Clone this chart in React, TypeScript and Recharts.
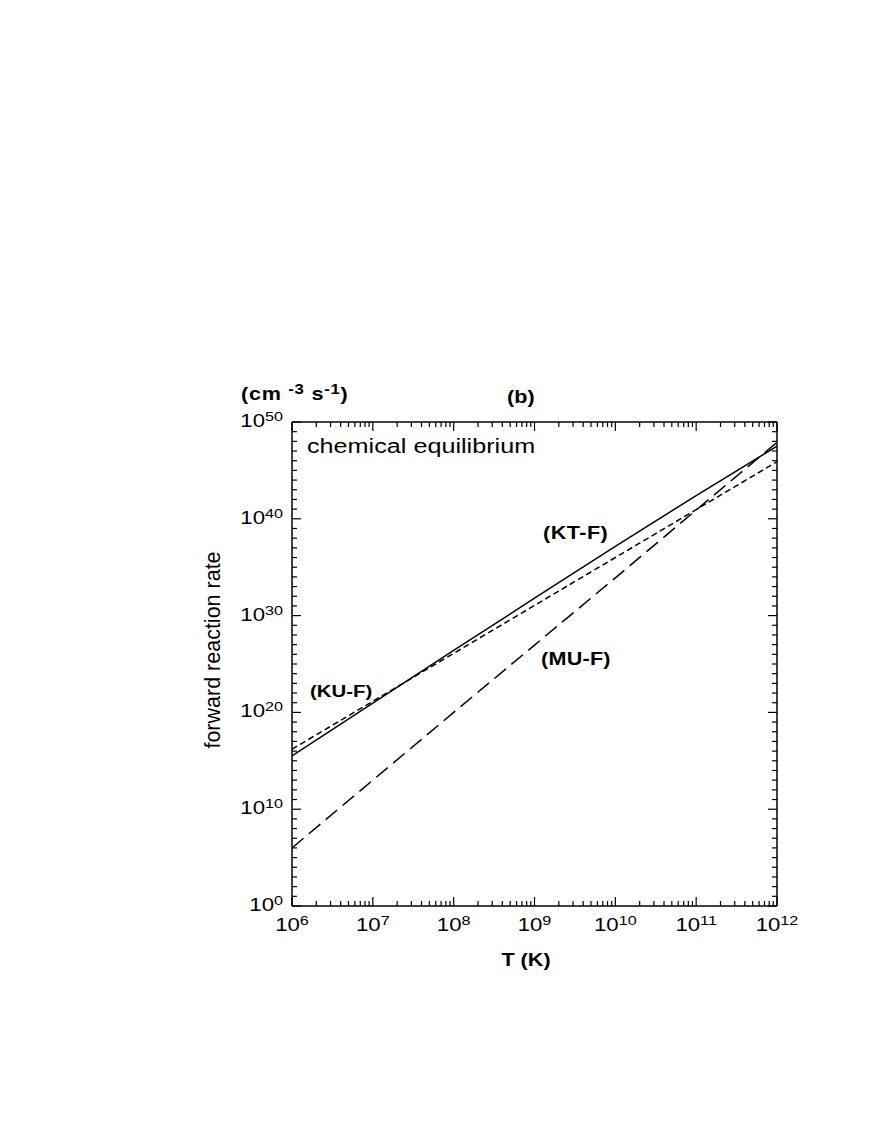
import { LineChart, Line, XAxis, YAxis } from "recharts";

// log10(T / K) at each decade
const T_EXP = [6, 7, 8, 9, 10, 11, 12];
// log10(rate / cm^-3 s^-1)
const KT_F = [15.5, 20.95, 26.4, 31.8, 37.15, 42.4, 47.5];
const KU_F = [16.2, 21.15, 26.1, 31.05, 36.0, 40.95, 45.9];
const MU_F = [6.0, 13.0, 20.0, 26.95, 33.9, 40.9, 47.9];

const X_DECADES = [6, 7, 8, 9, 10, 11, 12];
const MINOR_MULT = [2, 3, 4, 5, 6, 7, 8, 9];
const Y_TICKS = Array.from({ length: 51 }, (_, i) => i);
const Y_LABELS = [0, 10, 20, 30, 40, 50];

const xTicks = X_DECADES.flatMap((d) =>
  d < 12 ? [d, ...MINOR_MULT.map((m) => d + Math.log10(m))] : [d]
);

const data = T_EXP.map((t, i) => ({ t, kt: KT_F[i], ku: KU_F[i], mu: MU_F[i] }));

const FONT = "'Liberation Sans', Arial, Helvetica, sans-serif";
const SX = 1.2;

const isMajorX = (v: number) => Math.abs(v - Math.round(v)) < 1e-6;

function SText({ x, y, anchor = "start", size, bold = false, spacing = 0, children }: any) {
  return (
    <text
      transform={`translate(${x} ${y}) scale(${SX} 1)`}
      textAnchor={anchor}
      fontSize={size}
      fontWeight={bold ? "bold" : "normal"}
      fontFamily={FONT}
      letterSpacing={spacing}
      fill="#000"
    >
      {children}
    </text>
  );
}

function BottomTick({ x, y, payload }: any) {
  const v = payload.value;
  const major = isMajorX(v);
  return (
    <g>
      <line x1={x} y1={y} x2={x} y2={y - (major ? 9 : 5)} stroke="#000" strokeWidth={1.2} />
      {major && (
        <SText x={x} y={y + 25} anchor="middle" size={18.5}>
          10<tspan dy={-6} fontSize={13.5}>{Math.round(v)}</tspan>
        </SText>
      )}
    </g>
  );
}

function TopTick({ x, y, payload }: any) {
  const major = isMajorX(payload.value);
  return <line x1={x} y1={y} x2={x} y2={y + (major ? 9 : 5)} stroke="#000" strokeWidth={1.2} />;
}

function LeftTick({ x, y, payload }: any) {
  const v = payload.value;
  const major = Y_LABELS.includes(v);
  return (
    <g>
      <line x1={x} y1={y} x2={x + (major ? 9 : 5)} y2={y} stroke="#000" strokeWidth={1.2} />
      {major && (
        <SText x={x - 9} y={y + 5} anchor="end" size={18.5}>
          10<tspan dy={-6} fontSize={13.5}>{v}</tspan>
        </SText>
      )}
    </g>
  );
}

function RightTick({ x, y, payload }: any) {
  const major = Y_LABELS.includes(payload.value);
  return <line x1={x} y1={y} x2={x - (major ? 9 : 5)} y2={y} stroke="#000" strokeWidth={1.2} />;
}

const axisLine = { stroke: "#000", strokeWidth: 1.5 };

export default function App() {
  return (
    <div style={{ position: "relative", width: 856, height: 1000 }}>
      <LineChart
        width={856}
        height={1000}
        data={data}
        margin={{ top: 404, right: 77, bottom: 62, left: 224 }}
      >
        <XAxis
          xAxisId="bottom"
          dataKey="t"
          type="number"
          domain={[6, 12]}
          allowDataOverflow
          ticks={xTicks}
          interval={0}
          height={40}
          tickSize={0}
          tickMargin={0}
          tickLine={false}
          axisLine={axisLine}
          tick={BottomTick}
        />
        <XAxis
          xAxisId="top"
          dataKey="t"
          orientation="top"
          type="number"
          domain={[6, 12]}
          allowDataOverflow
          ticks={xTicks}
          interval={0}
          height={10}
          tickSize={0}
          tickMargin={0}
          tickLine={false}
          axisLine={axisLine}
          tick={TopTick}
        />
        <YAxis
          yAxisId="left"
          type="number"
          domain={[0, 50]}
          allowDataOverflow
          ticks={Y_TICKS}
          interval={0}
          width={60}
          tickSize={0}
          tickMargin={0}
          tickLine={false}
          axisLine={axisLine}
          tick={LeftTick}
        />
        <YAxis
          yAxisId="right"
          orientation="right"
          type="number"
          domain={[0, 50]}
          allowDataOverflow
          ticks={Y_TICKS}
          interval={0}
          width={10}
          tickSize={0}
          tickMargin={0}
          tickLine={false}
          axisLine={axisLine}
          tick={RightTick}
        />
        <Line
          xAxisId="bottom"
          yAxisId="left"
          type="linear"
          dataKey="kt"
          stroke="#000"
          strokeWidth={1.5}
          dot={false}
          isAnimationActive={false}
        />
        <Line
          xAxisId="bottom"
          yAxisId="left"
          type="linear"
          dataKey="ku"
          stroke="#000"
          strokeWidth={1.5}
          strokeDasharray="6 3.5"
          dot={false}
          isAnimationActive={false}
        />
        <Line
          xAxisId="bottom"
          yAxisId="left"
          type="linear"
          dataKey="mu"
          stroke="#000"
          strokeWidth={1.5}
          strokeDasharray="15 7"
          dot={false}
          isAnimationActive={false}
        />
      </LineChart>
      <svg
        width={856}
        height={1000}
        style={{ position: "absolute", left: 0, top: 0, pointerEvents: "none" }}
      >
        <SText x={233} y={392} size={18} bold spacing={0.6}>
          (cm <tspan dy={-6} fontSize={14}>-3</tspan>
          <tspan dy={6}> s</tspan>
          <tspan dy={-6} fontSize={14}>-1</tspan>
          <tspan dy={6}>)</tspan>
        </SText>
        <SText x={499} y={395} size={18} bold>(b)</SText>
        <SText x={299} y={445} size={21}>chemical equilibrium</SText>
        <SText x={535} y={531} size={18} bold spacing={0.4}>(KT-F)</SText>
        <SText x={533} y={657} size={18} bold spacing={0.2}>(MU-F)</SText>
        <SText x={302} y={689} size={17} bold>(KU-F)</SText>
        <SText x={518} y={958} anchor="middle" size={18} bold>T (K)</SText>
        <text
          transform="translate(212 642) rotate(-90)"
          textAnchor="middle"
          fontSize={21.5}
          fontFamily={FONT}
          fill="#000"
        >
          forward reaction rate
        </text>
      </svg>
    </div>
  );
}
